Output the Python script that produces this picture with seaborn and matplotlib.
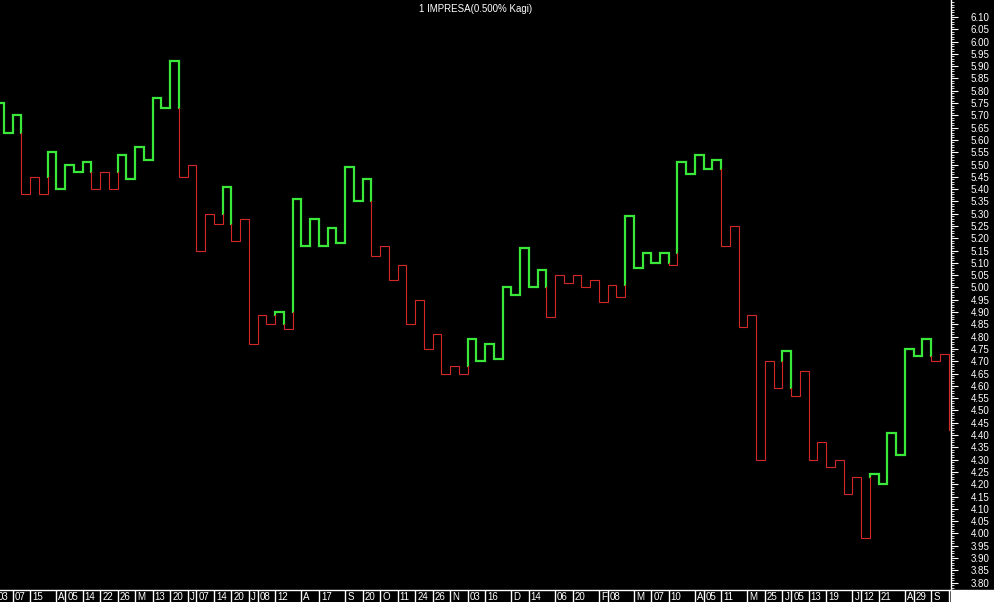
import pandas as pd
import matplotlib
matplotlib.use('Agg')
import matplotlib.pyplot as plt
import matplotlib.transforms as mtrans
from matplotlib.ticker import FixedLocator, FormatStrFormatter
import seaborn as sns

# Kagi turning levels, left to right (first one is the level entering the view)
kagi_levels = [5.75, 5.63, 5.70, 5.38, 5.45, 5.38, 5.55, 5.40, 5.50, 5.47, 5.51,
               5.40, 5.47, 5.40, 5.54, 5.44, 5.57, 5.52, 5.77, 5.73, 5.92,
               5.45, 5.50, 5.15, 5.30, 5.26, 5.41, 5.19, 5.28, 4.77, 4.89,
               4.85, 4.90, 4.83, 5.36, 5.17, 5.28, 5.17, 5.24, 5.18, 5.49,
               5.35, 5.44, 5.13, 5.17, 5.03, 5.09, 4.85, 4.95, 4.75, 4.81,
               4.65, 4.68, 4.65, 4.79, 4.70, 4.77, 4.71, 5.00, 4.97, 5.16,
               5.00, 5.07, 4.88, 5.05, 5.02, 5.05, 5.00, 5.03, 4.94, 5.01,
               4.96, 5.29, 5.08, 5.14, 5.10, 5.14, 5.09, 5.51, 5.46, 5.54,
               5.48, 5.52, 5.17, 5.25, 4.84, 4.89, 4.30, 4.70, 4.59, 4.74,
               4.56, 4.66, 4.30, 4.37, 4.27, 4.30, 4.16, 4.23, 3.98, 4.24,
               4.20, 4.41, 4.32, 4.75, 4.72, 4.79, 4.70, 4.73, 4.42]

# date labels on the bottom strip and the column they sit on
date_labels = ['03', '07', '15', 'A', '05', '14', '22', '26', 'M', '13', '20',
               'J', '07', '14', '20', 'J', '08', '12', 'A', '17', 'S', '20',
               'O', '11', '24', '26', 'N', '03', '16', 'D', '14', '06', '20',
               'F', '08', 'M', '07', '10', 'A', '05', '11', 'M', '25', 'J', '05',
               '13', '19', 'J', '12', '21', 'A', '29', 'S', '12']
date_cols = [0, 2, 4, 7, 8, 10, 12, 14, 16, 18, 20, 22, 23, 25, 27, 29, 30, 32,
             35, 37, 40, 42, 44, 46, 48, 50, 52, 54, 56, 59, 61, 64, 66, 69, 70,
             73, 75, 77, 80, 81, 83, 86, 88, 90, 91, 93, 95, 98, 99, 101, 104,
             105, 107, 109]

title = '1 IMPRESA(0.500% Kagi)'
green = '#3ae83a'
red = '#d42828'

# build kagi path: vertical per column, short horizontal between columns,
# thick (yang) above previous shoulder, thin (yin) below previous waist
records = []
run_id = 0
state = 'yang'
records.append((0, kagi_levels[0], run_id, state))
records.append((1, kagi_levels[0], run_id, state))
for j in range(1, len(kagi_levels)):
    a, b = kagi_levels[j - 1], kagi_levels[j]
    if j >= 2:
        prev = kagi_levels[j - 2]
        flip = (b > a and state == 'yin' and b > prev) or \
               (b < a and state == 'yang' and b < prev)
        if flip:
            records.append((j, prev, run_id, state))
            run_id += 1
            state = 'yang' if state == 'yin' else 'yin'
            records.append((j, prev, run_id, state))
    records.append((j, b, run_id, state))
    if j + 1 < len(kagi_levels):
        records.append((j + 1, b, run_id, state))

kagi = pd.DataFrame(records, columns=['col', 'price', 'run', 'state'])

sns.set_style('dark')
plt.rcParams['font.family'] = ['Liberation Sans', 'DejaVu Sans']

W, H = 994, 602
fig = plt.figure(figsize=(W / 100, H / 100), dpi=100, facecolor='black')
ax = fig.add_axes([0, 12 / H, 951 / W, 590 / H], facecolor='black')
band = fig.add_axes([0, 0, 951 / W, 12 / H], facecolor='black')

sns.lineplot(data=kagi, x='col', y='price', units='run', estimator=None,
             sort=False, hue='state', palette={'yang': green, 'yin': red},
             size='state', sizes={'yang': 1.6, 'yin': 0.8}, legend=False,
             solid_joinstyle='miter', solid_capstyle='projecting', ax=ax)

xlim = (0.543, 109.27)
ax.set_xlim(xlim)
ax.set_ylim(3.770, 6.169)
ax.set_xlabel('')
ax.set_ylabel('')
ax.grid(False)
ax.set_xticks([])

# right price axis
ax.yaxis.tick_right()
ax.yaxis.set_major_locator(FixedLocator([3.80 + 0.05 * i for i in range(47)]))
ax.yaxis.set_minor_locator(FixedLocator([3.77 + 0.01 * i for i in range(240)]))
ax.yaxis.set_major_formatter(FormatStrFormatter('%.2f'))
ax.tick_params(axis='y', which='major', colors='white', length=5, width=0.8,
               pad=9, labelsize=7, direction='out')
ax.tick_params(axis='y', which='minor', colors='white', length=2.5, width=0.6,
               direction='out')
for s in ['left', 'top', 'bottom']:
    ax.spines[s].set_visible(False)
ax.spines['right'].set_color('white')
ax.spines['right'].set_linewidth(1)

ax.text(0.5, 1 - 9 / 590, title, transform=ax.transAxes, ha='center',
        va='center', color='white', fontsize=7)

# bottom date strip
band.set_xlim(xlim)
band.set_ylim(0, 1)
band.set_xticks([])
band.set_yticks([])
band.grid(False)
for s in ['left', 'right', 'bottom']:
    band.spines[s].set_visible(False)
band.spines['top'].set_color('white')
band.spines['top'].set_linewidth(1)
band.vlines(date_cols, 0, 1, color='white', linewidth=1)
shift = mtrans.offset_copy(band.transData, fig=fig, x=2, y=0, units='dots')
for c, lab in zip(date_cols, date_labels):
    band.text(c, 0.42, lab, transform=shift, ha='left', va='center',
              color='white', fontsize=7, clip_on=True)

# white corner under the price axis
fig.add_artist(plt.Rectangle((951 / W, 0), 43 / W, 12 / H,
                             transform=fig.transFigure, color='white'))

fig.savefig('out.png', dpi=100, facecolor='black')
